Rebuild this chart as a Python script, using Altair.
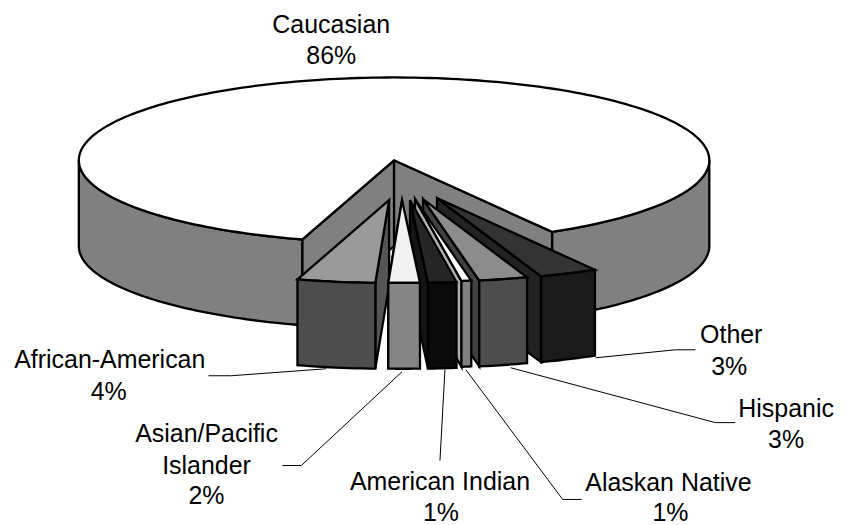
import math
import altair as alt
import pandas as pd

# Slice data, clockwise from the left edge of the exploded wedge group
categories = ["African-American", "Asian/Pacific Islander", "American Indian",
              "Alaskan Native", "Hispanic", "Other"]
shares = [4.0, 1.6, 1.45, 0.5, 2.5, 3.0]
main_label = "Caucasian"
main_share = 86.95

# Explosion of each slice (screen units)
explode_dx = [-5, 8, 16, 21, 29, 43]
explode_dy = [40, 40, 40, 39, 39, 38]

# Slice colours: top face, front face, side wall
top_cols = ["#9a9a9a", "#f2f2f2", "#262626", "#ffffff", "#8c8c8c", "#333333"]
front_cols = ["#4d4d4d", "#858585", "#0a0a0a", "#808080", "#4d4d4d", "#1a1a1a"]
wall_cols = ["#555555", "#777777", "#141414", "#b0b0b0", "#404040", "#222222"]

# Text labels (lines, x, y)
label_lines = [
    ("Caucasian", 332, 24), ("86%", 332, 56),
    ("Other", 733, 335), ("3%", 731, 367),
    ("Hispanic", 788, 409), ("3%", 788, 440),
    ("African-American", 110, 360), ("4%", 109, 392),
    ("Asian/Pacific", 207, 434), ("Islander", 207, 466), ("2%", 207, 497),
    ("American Indian", 441, 483), ("1%", 442, 514),
    ("Alaskan Native", 670, 484), ("1%", 672, 514),
]

# Leader lines
leaders = [
    [(209, 376), (232, 376), (327, 369)],
    [(283, 466), (302, 466), (403, 372)],
    [(441, 461), (446, 370)],
    [(583, 500), (564, 500), (467, 370)],
    [(737, 423), (717, 423), (512, 368)],
    [(697, 350), (677, 350), (597, 358)],
]

CX, CY, RX, RY, DEPTH = 395, 160, 316, 83, 86
START = -16.9


def rim(theta, dx=0, dy=0, drop=0):
    t = math.radians(theta)
    return [CX + RX * math.sin(t) + dx, CY + RY * math.cos(t) + dy + drop]


def arc(a, b, dx=0, dy=0, drop=0, n=60):
    return [rim(a + (b - a) * i / n, dx, dy, drop) for i in range(n + 1)]


def poly(points, fill):
    pts = [list(p) for p in points]
    pts.append(pts[0])
    return {"type": "Feature", "properties": {"fill": fill},
            "geometry": {"type": "Polygon", "coordinates": [pts]}}


def deg(v):
    return v / 100 * 360


features = []
main_end = START + sum(deg(s) for s in shares)
# outer side, left and right of the notch
left = arc(-90, START)
features.append(poly(left + [[x, y + DEPTH] for x, y in reversed(left)], "#808080"))
right = arc(main_end, 90)
features.append(poly(right + [[x, y + DEPTH] for x, y in reversed(right)], "#808080"))
# notch walls
for theta in (START, main_end):
    p = rim(theta)
    features.append(poly([[CX, CY], p, [p[0], p[1] + DEPTH], [CX, CY + DEPTH]], "#808080"))
# main top
features.append(poly([[CX, CY]] + arc(main_end, main_end + deg(main_share), n=240), "#ffffff"))

# slices
edges = [START]
for s in shares:
    edges.append(edges[-1] + deg(s))


def add_slice(i):
    a, b = edges[i], edges[i + 1]
    dx, dy = explode_dx[i], explode_dy[i]
    apex = [CX + dx, CY + dy]
    wall_theta = b if i == 0 else a
    w = rim(wall_theta, dx, dy)
    features.append(poly([apex, w, [w[0], w[1] + DEPTH], [apex[0], apex[1] + DEPTH]], wall_cols[i]))
    top = arc(a, b, dx, dy, n=12)
    features.append(poly([apex] + top, top_cols[i]))
    features.append(poly(top + [[x, y + DEPTH] for x, y in reversed(top)], front_cols[i]))


for i in [0, 5, 4, 3, 2, 1]:
    add_slice(i)

line_features = [{"type": "Feature", "properties": {},
                  "geometry": {"type": "LineString", "coordinates": [list(p) for p in l]}}
                 for l in leaders]


def geo(values):
    return alt.InlineData(values={"type": "FeatureCollection", "features": values},
                          format=alt.DataFormat(property="features", type="json"))


shapes = alt.Chart(geo(features)).mark_geoshape(
    stroke="black", strokeWidth=2.3, strokeJoin="miter", strokeMiterLimit=6
).encode(fill=alt.Fill("properties.fill:N", scale=None)).project(
    type="identity", scale=1, translate=[-8, -8])

lines = alt.Chart(geo(line_features)).mark_geoshape(
    filled=False, stroke="black", strokeWidth=1
).project(type="identity", scale=1, translate=[-8, -8])

df = pd.DataFrame(label_lines, columns=["text", "x", "y"])
df["x"] -= 8
df["y"] -= 8
texts = alt.Chart(df).mark_text(
    font="Liberation Sans", fontSize=25, color="black", align="center", baseline="middle"
).encode(x=alt.X("x:Q", scale=None), y=alt.Y("y:Q", scale=None), text="text:N")

chart = alt.layer(lines, shapes, texts).properties(
    width=826, height=509, padding=0, background="white"
).configure_view(stroke=None)

chart.save("out.html", embed_options={"renderer": "svg", "actions": False})
